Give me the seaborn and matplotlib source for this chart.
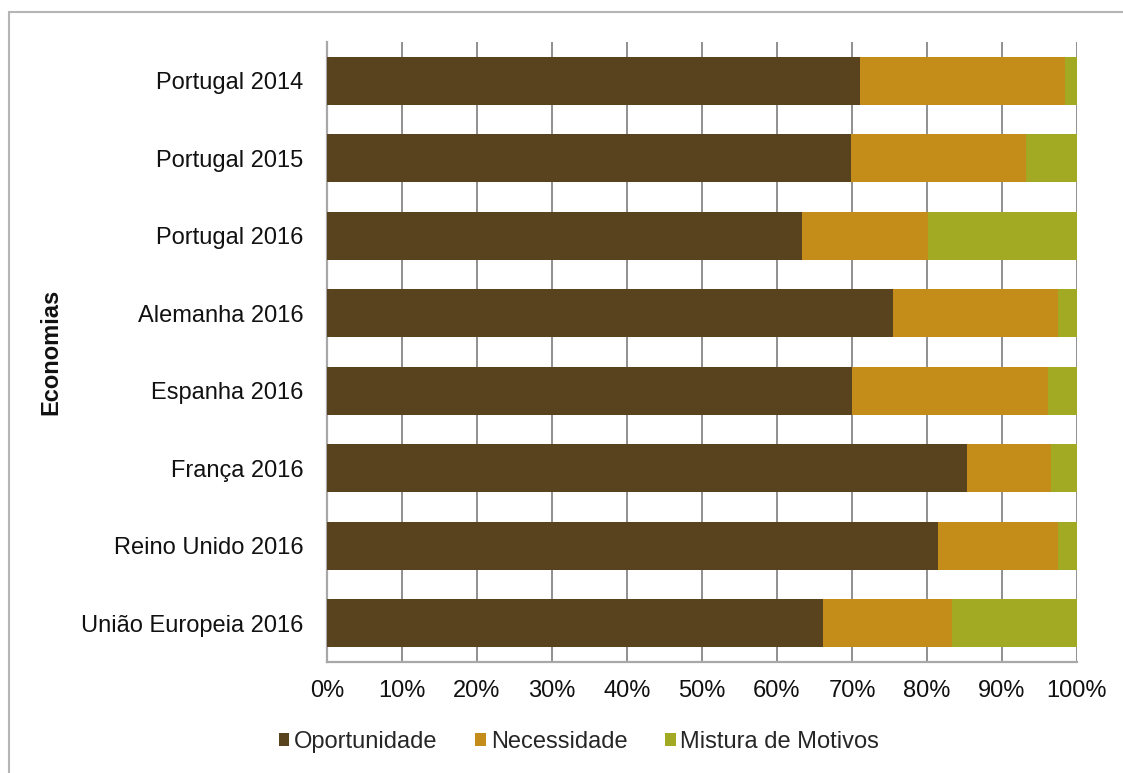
import numpy as np
import pandas as pd
import matplotlib
matplotlib.use("Agg")
import matplotlib.pyplot as plt
import seaborn as sns
from matplotlib.patches import Patch
from matplotlib.lines import Line2D

categories = ["Portugal 2014", "Portugal 2015", "Portugal 2016", "Alemanha 2016",
              "Espanha 2016", "França 2016", "Reino Unido 2016", "União Europeia 2016"]
oportunidade = [71.1, 69.9, 63.3, 75.4, 70.0, 85.3, 81.4, 66.1]
necessidade = [27.3, 23.3, 16.9, 22.0, 26.1, 11.2, 16.1, 17.2]
mistura = [1.6, 6.8, 19.8, 2.6, 3.9, 3.5, 2.5, 16.7]
series_names = ["Oportunidade", "Necessidade", "Mistura de Motivos"]
colors = ["#59431e", "#c48c19", "#a1aa22"]
xticks = [0, 10, 20, 30, 40, 50, 60, 70, 80, 90, 100]

sns.set_theme(style="white")
plt.rcParams["font.family"] = ["Liberation Sans", "DejaVu Sans"]

vals = np.array([oportunidade, necessidade, mistura])
cum = np.cumsum(vals, axis=0)

fig = plt.figure(figsize=(11.23, 7.73), dpi=100)
ax = fig.add_axes([327/1123, 1-662/773, 750/1123, 620/773])

# draw cumulative totals from back to front so they appear stacked
for i in [2, 1, 0]:
    df = pd.DataFrame({"Economia": categories, "valor": cum[i]})
    sns.barplot(data=df, x="valor", y="Economia", orient="h", color=colors[i],
                width=0.62, linewidth=0, saturation=1, ax=ax, zorder=3)

ax.set_xlim(0, 100)
ax.set_ylim(7.5, -0.5)
ax.set_xticks(xticks)
ax.set_xticklabels([f"{t}%" for t in xticks])
ax.xaxis.grid(True, color="#8f8f8f", linewidth=1.4, zorder=0)
ax.set_axisbelow(True)
ax.yaxis.grid(False)
for s in ["top", "right"]:
    ax.spines[s].set_visible(False)
for s in ["left", "bottom"]:
    ax.spines[s].set_color("#a8a8a8")
    ax.spines[s].set_linewidth(1.6)
ax.tick_params(axis="x", length=0, pad=13, labelsize=17, labelcolor="#111111")
ax.tick_params(axis="y", length=0, pad=17, labelsize=17, labelcolor="#111111")
ax.set_xlabel("")
ax.set_ylabel("Economias", fontsize=17, fontweight="bold", color="#111111", labelpad=0)
ax.yaxis.set_label_coords(-(327-62)/750, 0.5)

handles = [Patch(facecolor=c, edgecolor="none", label=n) for c, n in zip(colors, series_names)]
fig.legend(handles=handles, loc="center", bbox_to_anchor=(579/1123, 1-742/773), ncol=3,
           frameon=False, fontsize=17, handlelength=0.45, handleheight=0.45,
           handletextpad=0.2, columnspacing=1.6)

# outer frame (left and top lines)
fig.add_artist(Line2D([8.5/1123, 8.5/1123], [0, 1-12/773], transform=fig.transFigure,
                      color="#b5b5b5", linewidth=1.5))
fig.add_artist(Line2D([8.5/1123, 1], [1-12/773, 1-12/773], transform=fig.transFigure,
                      color="#b5b5b5", linewidth=1.5))

fig.savefig("out.png", dpi=100)
